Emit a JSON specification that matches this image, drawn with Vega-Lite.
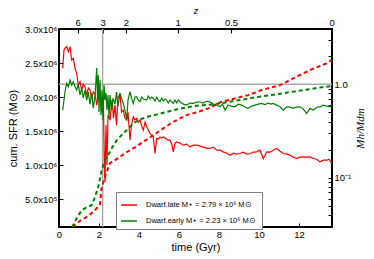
{
  "$schema": "https://vega.github.io/schema/vega-lite/v6.json",
  "width": 273,
  "height": 198,
  "autosize": {"type": "none"},
  "padding": {"left": 59, "top": 29, "right": 42, "bottom": 32},
  "background": "white",
  "config": {
    "view": {"stroke": "black", "strokeWidth": 2},
    "axis": {
      "grid": false,
      "domain": false,
      "labelFont": "Liberation Sans",
      "titleFont": "Liberation Sans",
      "labelFontSize": 9.5,
      "titleFontSize": 11,
      "titleFontWeight": "normal",
      "labelColor": "black",
      "titleColor": "black",
      "tickColor": "black",
      "tickSize": -4,
      "tickWidth": 1,
      "labelOverlap": false,
      "labelFlush": false
    },
    "legend": {
      "orient": "none",
      "legendX": 57,
      "legendY": 163,
      "strokeColor": "#808080",
      "fillColor": "white",
      "padding": 4,
      "symbolType": "stroke",
      "symbolSize": 250,
      "symbolStrokeWidth": 1.5,
      "labelFont": "Liberation Sans",
      "labelFontSize": 7.5,
      "labelColor": "black",
      "rowPadding": 3,
      "labelLimit": 300,
      "labelOffset": 8
    }
  },
  "datasets": {
    "cum": [
      {"s": "late", "t": 0.7, "v": 88000}, {"s": "late", "t": 0.8, "v": 128000}, {"s": "late", "t": 1.135, "v": 201000}, {"s": "late", "t": 1.45, "v": 250000}, {"s": "late", "t": 1.8, "v": 338000}, {"s": "late", "t": 2.05, "v": 426000}, {"s": "late", "t": 2.135, "v": 681000}, {"s": "late", "t": 2.2, "v": 735000}, {"s": "late", "t": 2.3, "v": 828000}, {"s": "late", "t": 2.385, "v": 901000}, {"s": "late", "t": 2.55, "v": 1029000}, {"s": "late", "t": 2.8, "v": 1074000}, {"s": "late", "t": 3.05, "v": 1122000}, {"s": "late", "t": 3.3, "v": 1176000}, {"s": "late", "t": 3.715, "v": 1246000}, {"s": "late", "t": 4.215, "v": 1343000}, {"s": "late", "t": 4.715, "v": 1441000}, {"s": "late", "t": 5.215, "v": 1540000}, {"s": "late", "t": 5.715, "v": 1637000}, {"s": "late", "t": 6.385, "v": 1735000}, {"s": "late", "t": 6.965, "v": 1784000}, {"s": "late", "t": 7.465, "v": 1834000}, {"s": "late", "t": 8.135, "v": 1931000}, {"s": "late", "t": 8.8, "v": 1981000}, {"s": "late", "t": 9.465, "v": 2029000}, {"s": "late", "t": 10.135, "v": 2103000}, {"s": "late", "t": 11.05, "v": 2176000}, {"s": "late", "t": 11.715, "v": 2275000}, {"s": "late", "t": 12.55, "v": 2397000}, {"s": "late", "t": 13.385, "v": 2496000}, {"s": "late", "t": 13.63, "v": 2544000},
      {"s": "early", "t": 0.65, "v": 88000}, {"s": "early", "t": 0.885, "v": 221000}, {"s": "early", "t": 1.135, "v": 338000}, {"s": "early", "t": 1.385, "v": 382000}, {"s": "early", "t": 1.635, "v": 412000}, {"s": "early", "t": 1.8, "v": 534000}, {"s": "early", "t": 1.965, "v": 681000}, {"s": "early", "t": 2.135, "v": 926000}, {"s": "early", "t": 2.3, "v": 1074000}, {"s": "early", "t": 2.55, "v": 1196000}, {"s": "early", "t": 2.715, "v": 1294000}, {"s": "early", "t": 2.965, "v": 1393000}, {"s": "early", "t": 3.215, "v": 1466000}, {"s": "early", "t": 3.385, "v": 1515000}, {"s": "early", "t": 3.715, "v": 1613000}, {"s": "early", "t": 4.05, "v": 1672000}, {"s": "early", "t": 4.55, "v": 1721000}, {"s": "early", "t": 5.215, "v": 1769000}, {"s": "early", "t": 5.885, "v": 1819000}, {"s": "early", "t": 6.55, "v": 1857000}, {"s": "early", "t": 6.965, "v": 1875000}, {"s": "early", "t": 7.8, "v": 1895000}, {"s": "early", "t": 8.8, "v": 1945000}, {"s": "early", "t": 9.8, "v": 1995000}, {"s": "early", "t": 11.05, "v": 2050000}, {"s": "early", "t": 12.05, "v": 2095000}, {"s": "early", "t": 13.05, "v": 2140000}, {"s": "early", "t": 13.63, "v": 2162000}
    ],
    "ratio": [
      {"s": "late", "t": 0.185, "r": 1.483}, {"s": "late", "t": 0.25, "r": 2.329}, {"s": "late", "t": 0.3, "r": 2.43}, {"s": "late", "t": 0.385, "r": 2.527}, {"s": "late", "t": 0.465, "r": 2.234}, {"s": "late", "t": 0.55, "r": 2.527}, {"s": "late", "t": 0.635, "r": 1.82}, {"s": "late", "t": 0.715, "r": 1.898}, {"s": "late", "t": 0.8, "r": 1.483}, {"s": "late", "t": 0.885, "r": 1.311}, {"s": "late", "t": 0.965, "r": 0.983}, {"s": "late", "t": 1.05, "r": 1.066}, {"s": "late", "t": 1.135, "r": 0.869}, {"s": "late", "t": 1.215, "r": 1.007}, {"s": "late", "t": 1.3, "r": 0.943}, {"s": "late", "t": 1.385, "r": 0.768}, {"s": "late", "t": 1.465, "r": 0.913}, {"s": "late", "t": 1.55, "r": 0.869}, {"s": "late", "t": 1.635, "r": 0.708}, {"s": "late", "t": 1.715, "r": 0.827}, {"s": "late", "t": 1.8, "r": 0.801}, {"s": "late", "t": 1.885, "r": 0.6}, {"s": "late", "t": 1.965, "r": 0.749}, {"s": "late", "t": 2.05, "r": 0.833}, {"s": "late", "t": 2.135, "r": 0.509}, {"s": "late", "t": 2.215, "r": 0.768}, {"s": "late", "t": 2.25, "r": 0.253}, {"s": "late", "t": 2.275, "r": 0.107}, {"s": "late", "t": 2.3, "r": 0.0899}, {"s": "late", "t": 2.325, "r": 0.198}, {"s": "late", "t": 2.35, "r": 0.3666}, {"s": "late", "t": 2.4, "r": 0.1368}, {"s": "late", "t": 2.45, "r": 0.469}, {"s": "late", "t": 2.55, "r": 0.4148}, {"s": "late", "t": 2.65, "r": 0.679}, {"s": "late", "t": 2.725, "r": 0.4357}, {"s": "late", "t": 2.8, "r": 0.6}, {"s": "late", "t": 2.875, "r": 0.3666}, {"s": "late", "t": 2.95, "r": 0.713}, {"s": "late", "t": 3.05, "r": 0.801}, {"s": "late", "t": 3.125, "r": 0.505}, {"s": "late", "t": 3.215, "r": 0.5306}, {"s": "late", "t": 3.3, "r": 0.4357}, {"s": "late", "t": 3.385, "r": 0.4148}, {"s": "late", "t": 3.45, "r": 0.505}, {"s": "late", "t": 3.55, "r": 0.253}, {"s": "late", "t": 3.625, "r": 0.3666}, {"s": "late", "t": 3.715, "r": 0.4498}, {"s": "late", "t": 3.8, "r": 0.4148}, {"s": "late", "t": 3.885, "r": 0.4325}, {"s": "late", "t": 3.965, "r": 0.3948}, {"s": "late", "t": 4.05, "r": 0.4148}, {"s": "late", "t": 4.135, "r": 0.3577}, {"s": "late", "t": 4.215, "r": 0.324}, {"s": "late", "t": 4.3, "r": 0.3948}, {"s": "late", "t": 4.385, "r": 0.3516}, {"s": "late", "t": 4.465, "r": 0.324}, {"s": "late", "t": 4.55, "r": 0.2988}, {"s": "late", "t": 4.635, "r": 0.2865}, {"s": "late", "t": 4.715, "r": 0.2748}, {"s": "late", "t": 4.8, "r": 0.1825}, {"s": "late", "t": 4.885, "r": 0.2641}, {"s": "late", "t": 4.965, "r": 0.2596}, {"s": "late", "t": 5.05, "r": 0.2727}, {"s": "late", "t": 5.135, "r": 0.2661}, {"s": "late", "t": 5.215, "r": 0.2748}, {"s": "late", "t": 5.3, "r": 0.2661}, {"s": "late", "t": 5.385, "r": 0.2596}, {"s": "late", "t": 5.465, "r": 0.253}, {"s": "late", "t": 5.55, "r": 0.253}, {"s": "late", "t": 5.635, "r": 0.2295}, {"s": "late", "t": 5.715, "r": 0.1898}, {"s": "late", "t": 5.8, "r": 0.2352}, {"s": "late", "t": 5.885, "r": 0.2429}, {"s": "late", "t": 6.05, "r": 0.2352}, {"s": "late", "t": 6.215, "r": 0.2239}, {"s": "late", "t": 6.385, "r": 0.2295}, {"s": "late", "t": 6.55, "r": 0.2147}, {"s": "late", "t": 6.715, "r": 0.2239}, {"s": "late", "t": 6.885, "r": 0.2239}, {"s": "late", "t": 7.05, "r": 0.2184}, {"s": "late", "t": 7.215, "r": 0.2131}, {"s": "late", "t": 7.385, "r": 0.208}, {"s": "late", "t": 7.55, "r": 0.2064}, {"s": "late", "t": 7.715, "r": 0.2131}, {"s": "late", "t": 7.885, "r": 0.198}, {"s": "late", "t": 8.05, "r": 0.198}, {"s": "late", "t": 8.215, "r": 0.1898}, {"s": "late", "t": 8.385, "r": 0.1838}, {"s": "late", "t": 8.55, "r": 0.175}, {"s": "late", "t": 8.715, "r": 0.1838}, {"s": "late", "t": 8.885, "r": 0.1793}, {"s": "late", "t": 9.05, "r": 0.1825}, {"s": "late", "t": 9.215, "r": 0.1884}, {"s": "late", "t": 9.385, "r": 0.1793}, {"s": "late", "t": 9.55, "r": 0.1825}, {"s": "late", "t": 9.715, "r": 0.1884}, {"s": "late", "t": 9.885, "r": 0.1898}, {"s": "late", "t": 10.05, "r": 0.198}, {"s": "late", "t": 10.215, "r": 0.1613}, {"s": "late", "t": 10.385, "r": 0.1898}, {"s": "late", "t": 10.55, "r": 0.1884}, {"s": "late", "t": 10.715, "r": 0.198}, {"s": "late", "t": 10.885, "r": 0.2064}, {"s": "late", "t": 11.05, "r": 0.1931}, {"s": "late", "t": 11.215, "r": 0.1825}, {"s": "late", "t": 11.385, "r": 0.1793}, {"s": "late", "t": 11.55, "r": 0.175}, {"s": "late", "t": 11.715, "r": 0.1666}, {"s": "late", "t": 11.885, "r": 0.1613}, {"s": "late", "t": 12.05, "r": 0.1666}, {"s": "late", "t": 12.215, "r": 0.1678}, {"s": "late", "t": 12.385, "r": 0.1666}, {"s": "late", "t": 12.55, "r": 0.1678}, {"s": "late", "t": 12.715, "r": 0.1613}, {"s": "late", "t": 12.885, "r": 0.1585}, {"s": "late", "t": 13.05, "r": 0.1483}, {"s": "late", "t": 13.215, "r": 0.1547}, {"s": "late", "t": 13.385, "r": 0.1547}, {"s": "late", "t": 13.5, "r": 0.1585}, {"s": "late", "t": 13.635, "r": 0.1426},
      {"s": "early", "t": 0.185, "r": 0.5306}, {"s": "early", "t": 0.25, "r": 0.679}, {"s": "early", "t": 0.3, "r": 0.833}, {"s": "early", "t": 0.385, "r": 1.025}, {"s": "early", "t": 0.465, "r": 0.943}, {"s": "early", "t": 0.55, "r": 1.112}, {"s": "early", "t": 0.635, "r": 0.983}, {"s": "early", "t": 0.715, "r": 1.066}, {"s": "early", "t": 0.8, "r": 0.943}, {"s": "early", "t": 0.885, "r": 0.869}, {"s": "early", "t": 0.965, "r": 1.007}, {"s": "early", "t": 1.05, "r": 0.768}, {"s": "early", "t": 1.135, "r": 0.913}, {"s": "early", "t": 1.215, "r": 0.713}, {"s": "early", "t": 1.3, "r": 0.869}, {"s": "early", "t": 1.385, "r": 0.679}, {"s": "early", "t": 1.465, "r": 0.827}, {"s": "early", "t": 1.55, "r": 0.615}, {"s": "early", "t": 1.635, "r": 0.807}, {"s": "early", "t": 1.715, "r": 0.5574}, {"s": "early", "t": 1.8, "r": 0.749}, {"s": "early", "t": 1.885, "r": 1.495}, {"s": "early", "t": 1.925, "r": 0.679}, {"s": "early", "t": 1.965, "r": 1.258}, {"s": "early", "t": 2.0, "r": 0.505}, {"s": "early", "t": 2.05, "r": 1.112}, {"s": "early", "t": 2.1, "r": 0.469}, {"s": "early", "t": 2.15, "r": 0.869}, {"s": "early", "t": 2.2, "r": 0.4148}, {"s": "early", "t": 2.25, "r": 0.983}, {"s": "early", "t": 2.3, "r": 0.679}, {"s": "early", "t": 2.35, "r": 0.807}, {"s": "early", "t": 2.4, "r": 0.5306}, {"s": "early", "t": 2.45, "r": 0.768}, {"s": "early", "t": 2.5, "r": 0.4357}, {"s": "early", "t": 2.55, "r": 0.768}, {"s": "early", "t": 2.625, "r": 0.5306}, {"s": "early", "t": 2.7, "r": 0.713}, {"s": "early", "t": 2.8, "r": 0.615}, {"s": "early", "t": 2.875, "r": 0.827}, {"s": "early", "t": 2.95, "r": 0.5857}, {"s": "early", "t": 3.05, "r": 0.801}, {"s": "early", "t": 3.125, "r": 0.713}, {"s": "early", "t": 3.215, "r": 0.626}, {"s": "early", "t": 3.3, "r": 0.5306}, {"s": "early", "t": 3.385, "r": 0.4148}, {"s": "early", "t": 3.45, "r": 0.679}, {"s": "early", "t": 3.55, "r": 0.833}, {"s": "early", "t": 3.625, "r": 0.713}, {"s": "early", "t": 3.715, "r": 0.626}, {"s": "early", "t": 3.8, "r": 0.731}, {"s": "early", "t": 3.885, "r": 0.737}, {"s": "early", "t": 3.965, "r": 0.679}, {"s": "early", "t": 4.05, "r": 0.651}, {"s": "early", "t": 4.135, "r": 0.731}, {"s": "early", "t": 4.215, "r": 0.696}, {"s": "early", "t": 4.385, "r": 0.679}, {"s": "early", "t": 4.465, "r": 0.749}, {"s": "early", "t": 4.55, "r": 0.696}, {"s": "early", "t": 4.635, "r": 0.731}, {"s": "early", "t": 4.715, "r": 0.708}, {"s": "early", "t": 4.8, "r": 0.6627}, {"s": "early", "t": 4.885, "r": 0.731}, {"s": "early", "t": 4.965, "r": 0.679}, {"s": "early", "t": 5.05, "r": 0.651}, {"s": "early", "t": 5.135, "r": 0.713}, {"s": "early", "t": 5.215, "r": 0.6627}, {"s": "early", "t": 5.3, "r": 0.696}, {"s": "early", "t": 5.385, "r": 0.679}, {"s": "early", "t": 5.465, "r": 0.6307}, {"s": "early", "t": 5.55, "r": 0.679}, {"s": "early", "t": 5.635, "r": 0.6463}, {"s": "early", "t": 5.715, "r": 0.626}, {"s": "early", "t": 5.8, "r": 0.679}, {"s": "early", "t": 5.885, "r": 0.6307}, {"s": "early", "t": 5.965, "r": 0.679}, {"s": "early", "t": 6.05, "r": 0.651}, {"s": "early", "t": 6.215, "r": 0.615}, {"s": "early", "t": 6.385, "r": 0.6}, {"s": "early", "t": 6.55, "r": 0.6307}, {"s": "early", "t": 6.715, "r": 0.626}, {"s": "early", "t": 6.885, "r": 0.6463}, {"s": "early", "t": 7.05, "r": 0.651}, {"s": "early", "t": 7.215, "r": 0.6307}, {"s": "early", "t": 7.385, "r": 0.6627}, {"s": "early", "t": 7.55, "r": 0.6463}, {"s": "early", "t": 7.715, "r": 0.615}, {"s": "early", "t": 7.885, "r": 0.6}, {"s": "early", "t": 8.05, "r": 0.5757}, {"s": "early", "t": 8.175, "r": 0.615}, {"s": "early", "t": 8.3, "r": 0.5306}, {"s": "early", "t": 8.45, "r": 0.6}, {"s": "early", "t": 8.635, "r": 0.5857}, {"s": "early", "t": 8.8, "r": 0.5757}, {"s": "early", "t": 8.965, "r": 0.615}, {"s": "early", "t": 9.135, "r": 0.6}, {"s": "early", "t": 9.3, "r": 0.5715}, {"s": "early", "t": 9.45, "r": 0.5534}, {"s": "early", "t": 9.635, "r": 0.5857}, {"s": "early", "t": 9.8, "r": 0.6}, {"s": "early", "t": 9.965, "r": 0.615}, {"s": "early", "t": 10.135, "r": 0.626}, {"s": "early", "t": 10.3, "r": 0.6075}, {"s": "early", "t": 10.45, "r": 0.6307}, {"s": "early", "t": 10.6, "r": 0.615}, {"s": "early", "t": 10.7, "r": 0.626}, {"s": "early", "t": 10.885, "r": 0.6}, {"s": "early", "t": 11.05, "r": 0.5757}, {"s": "early", "t": 11.215, "r": 0.5306}, {"s": "early", "t": 11.385, "r": 0.5757}, {"s": "early", "t": 11.55, "r": 0.5715}, {"s": "early", "t": 11.7, "r": 0.5534}, {"s": "early", "t": 11.885, "r": 0.5715}, {"s": "early", "t": 12.05, "r": 0.5757}, {"s": "early", "t": 12.215, "r": 0.5439}, {"s": "early", "t": 12.385, "r": 0.4893}, {"s": "early", "t": 12.55, "r": 0.5534}, {"s": "early", "t": 12.7, "r": 0.5306}, {"s": "early", "t": 12.85, "r": 0.5574}, {"s": "early", "t": 12.95, "r": 0.5757}, {"s": "early", "t": 13.05, "r": 0.5715}, {"s": "early", "t": 13.2, "r": 0.6}, {"s": "early", "t": 13.385, "r": 0.5857}, {"s": "early", "t": 13.55, "r": 0.5757}, {"s": "early", "t": 13.635, "r": 0.593}
    ],
    "zmark": [{"t": 2.18}],
    "unity": [{"r": 1}]
  },
  "layer": [
    {
      "data": {"name": "zmark"},
      "mark": {"type": "rule", "color": "#aaaaaa", "strokeWidth": 1.5},
      "encoding": {
        "x": {
          "field": "t", "type": "quantitative",
          "scale": {"domain": [0, 13.65], "nice": false, "zero": false},
          "axis": {
            "orient": "top",
            "values": [0.93, 2.18, 3.35, 5.93, 8.6, 13.63],
            "labelExpr": "datum.value < 1 ? '6' : datum.value < 3 ? '3' : datum.value < 4 ? '2' : datum.value < 7 ? '1' : datum.value < 10 ? '0.5' : '0'",
            "title": "z",
            "titleFontStyle": "italic",
            "titleFontSize": 9,
            "labelPadding": 6,
            "titlePadding": 2
          }
        }
      }
    },
    {
      "layer": [
        {
          "data": {"name": "unity"},
          "mark": {"type": "rule", "color": "#aaaaaa", "strokeWidth": 1.5},
          "encoding": {"y": {"field": "r", "type": "quantitative"}}
        },
        {
          "data": {"name": "ratio"},
          "mark": {"type": "line", "strokeWidth": 1.2, "clip": true},
          "encoding": {
            "x": {"field": "t", "type": "quantitative", "scale": {"domain": [0, 13.65], "nice": false, "zero": false}, "axis": null},
            "y": {
              "field": "r", "type": "quantitative",
              "scale": {"type": "log", "domain": [0.0299, 3.9], "nice": false},
              "axis": {
                "orient": "right",
                "values": [0.03, 0.04, 0.05, 0.06, 0.07, 0.08, 0.09, 0.1, 0.2, 0.3, 0.4, 0.5, 0.6, 0.7, 0.8, 0.9, 1, 2, 3],
                "labelExpr": "datum.value == 1 ? '1.0' : datum.value == 0.1 ? '10⁻¹' : ''",
                "title": "Mh/Mdm",
                "titleFont": "Liberation Serif",
                "titleFontStyle": "italic",
                "titleFontSize": 11,
                "titleAngle": 270,
                "labelPadding": 6,
                "titlePadding": 15
              }
            },
            "color": {
              "field": "s", "type": "nominal",
              "scale": {"domain": ["late", "early"], "range": ["#ff0000", "#008000"]},
              "legend": {
                "title": null,
                "labelExpr": "datum.label == 'late' ? 'Dwarf.late  M⋆ = 2.79 × 10⁶ M⊙' : 'Dwarf.early  M⋆ = 2.23 × 10⁶ M⊙'"
              }
            }
          }
        }
      ]
    },
    {
      "data": {"name": "cum"},
      "mark": {"type": "line", "strokeWidth": 2, "strokeDash": [4, 3], "clip": true},
      "encoding": {
        "x": {
          "field": "t", "type": "quantitative",
          "scale": {"domain": [0, 13.65], "nice": false, "zero": false},
          "axis": {"orient": "bottom", "values": [0, 2, 4, 6, 8, 10, 12], "title": "time (Gyr)", "labelPadding": 6, "titlePadding": 3}
        },
        "y": {
          "field": "v", "type": "quantitative",
          "scale": {"domain": [92000, 3000000], "nice": false, "zero": false},
          "axis": {
            "orient": "left",
            "values": [500000, 1000000, 1500000, 2000000, 2500000, 3000000],
            "labelExpr": "datum.value == 500000 ? '5.0x10⁵' : format(datum.value / 1000000, '.1f') + 'x10⁶'",
            "title": "cum. SFR (M⊙)",
            "labelPadding": 6,
            "titlePadding": 6
          }
        },
        "color": {
          "field": "s", "type": "nominal",
          "scale": {"domain": ["late", "early"], "range": ["#ff0000", "#008000"]},
          "legend": null
        }
      }
    }
  ],
  "resolve": {
    "scale": {"y": "independent", "color": "independent"},
    "axis": {"x": "independent", "y": "independent"}
  }
}
